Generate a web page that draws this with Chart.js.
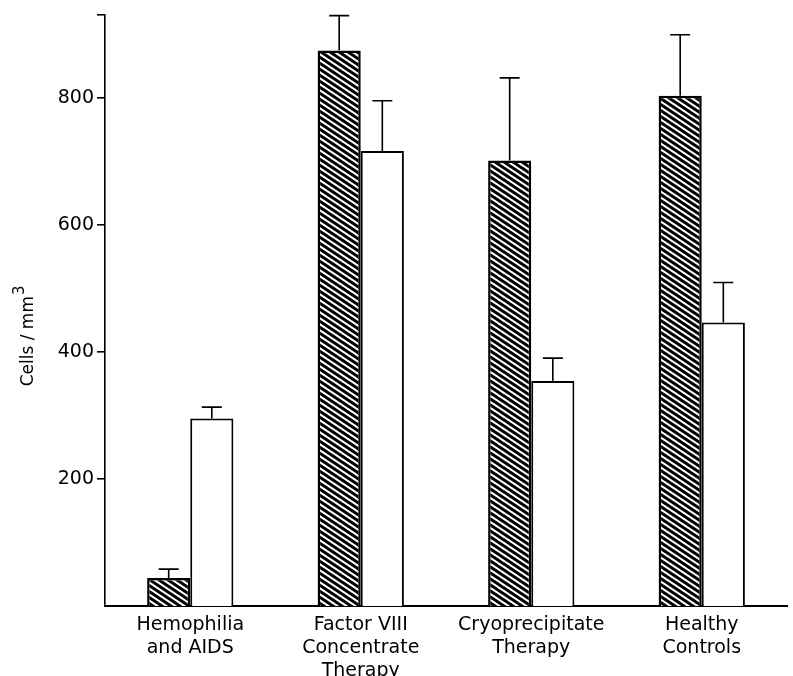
<!DOCTYPE html>
<html>
<head>
<meta charset="utf-8">
<script src="https://cdn.jsdelivr.net/npm/chart.js@4"></script>
<style>
  html, body { margin: 0; padding: 0; background: #fff; }
  #wrap { width: 793px; height: 676px; }
</style>
</head>
<body>
<div id="wrap"><canvas id="cellChart" width="793" height="676"></canvas></div>
<script>
// data
const categories = [
    ['Hemophilia', 'and AIDS'],
    ['Factor VIII', 'Concentrate', 'Therapy'],
    ['Cryoprecipitate', 'Therapy'],
    ['Healthy', 'Controls']
];
const hatchedValues = [44, 874, 701, 803];
const hatchedErrors = [14, 55, 130, 96];
const openValues = [295, 716, 354, 446];
const openErrors = [18, 79, 36, 63];
const yTicks = [200, 400, 600, 800];
const yTop = 930;
const yTitle = 'Cells / mm';
const yTitleSup = '3';

document.addEventListener("DOMContentLoaded", () => {
    // diagonal hatch fill, shallow "\" stripes
    function makeHatch() {
        const w = 9, h = 6;
        const c = document.createElement('canvas');
        c.width = w; c.height = h;
        const g = c.getContext('2d');
        g.fillStyle = '#fff';
        g.fillRect(0, 0, w, h);
        g.strokeStyle = '#000';
        g.lineWidth = 3;
        g.beginPath();
        for (let k = -1; k <= 1; k++) {
            g.moveTo(-w + k * w, -h);
            g.lineTo(2 * w + k * w, 2 * h);
        }
        g.stroke();
        return g.createPattern(c, 'repeat');
    }

    // error bars (upper whisker only)
    const errorBars = {
        id: 'errorBars',
        afterDatasetsDraw(chart) {
            const ctx = chart.ctx;
            const y = chart.scales.y;
            ctx.save();
            ctx.strokeStyle = '#000';
            ctx.lineWidth = 1.6;
            chart.data.datasets.forEach((ds, i) => {
                const meta = chart.getDatasetMeta(i);
                meta.data.forEach((bar, j) => {
                    const top = y.getPixelForValue(ds.data[j] + ds.errors[j]);
                    ctx.beginPath();
                    ctx.moveTo(bar.x, bar.y);
                    ctx.lineTo(bar.x, top);
                    ctx.moveTo(bar.x - 10, top);
                    ctx.lineTo(bar.x + 10, top);
                    ctx.stroke();
                });
            });
            ctx.restore();
        }
    };

    // y title with a raised 3, a bit below the middle of the axis
    const sideTitle = {
        id: 'sideTitle',
        afterDraw(chart) {
            const ctx = chart.ctx;
            const y = chart.scales.y;
            ctx.save();
            ctx.translate(33, y.getPixelForValue(425));
            ctx.rotate(-Math.PI / 2);
            ctx.fillStyle = '#000';
            ctx.textBaseline = 'alphabetic';
            ctx.font = '17px "DejaVu Sans"';
            const w1 = ctx.measureText(yTitle).width;
            ctx.font = '15px "DejaVu Sans"';
            const w2 = ctx.measureText(yTitleSup).width;
            const x0 = -(w1 + w2 + 1) / 2;
            ctx.font = '17px "DejaVu Sans"';
            ctx.fillText(yTitle, x0, 0);
            ctx.font = '15px "DejaVu Sans"';
            ctx.fillText(yTitleSup, x0 + w1 + 1, -9);
            ctx.restore();
        }
    };

    const ctx = document.getElementById('cellChart').getContext('2d');
    new Chart(ctx, {
        type: 'bar',
        data: {
            labels: categories,
            datasets: [{
                data: hatchedValues,
                errors: hatchedErrors,
                backgroundColor: makeHatch(),
                borderColor: '#000',
                borderWidth: 2.5
            }, {
                data: openValues,
                errors: openErrors,
                backgroundColor: '#fff',
                borderColor: '#000',
                borderWidth: 2
            }]
        },
        options: {
            responsive: false,
            animation: false,
            layout: { padding: { top: 15, right: 6, left: 0, bottom: 0 } },
            datasets: { bar: { categoryPercentage: 0.506, barPercentage: 1 } },
            plugins: {
                legend: { display: false },
                tooltip: { enabled: false }
            },
            scales: {
                x: {
                    grid: { display: false },
                    border: { display: true, color: '#000', width: 2 },
                    ticks: {
                        color: '#000',
                        padding: 0,
                        maxRotation: 0,
                        autoSkip: false,
                        font: { family: 'DejaVu Sans', size: 19, lineHeight: 1.2 }
                    },
                    afterFit: s => { s.height = 70; }
                },
                y: {
                    min: 0,
                    max: yTop,
                    afterBuildTicks: s => {
                        s.ticks = yTicks.concat([yTop]).map(v => ({ value: v }));
                    },
                    grid: {
                        drawOnChartArea: false,
                        drawTicks: true,
                        tickLength: 8,
                        color: '#000',
                        lineWidth: 1.6
                    },
                    border: { display: true, color: '#000', width: 1.6 },
                    ticks: {
                        color: '#000',
                        padding: 3,
                        font: { family: 'DejaVu Sans', size: 19 },
                        callback: v => (v === yTop ? '' : v)
                    },
                    afterFit: s => { s.width = 105; }
                }
            }
        },
        plugins: [errorBars, sideTitle]
    });
});
</script>
</body>
</html>
